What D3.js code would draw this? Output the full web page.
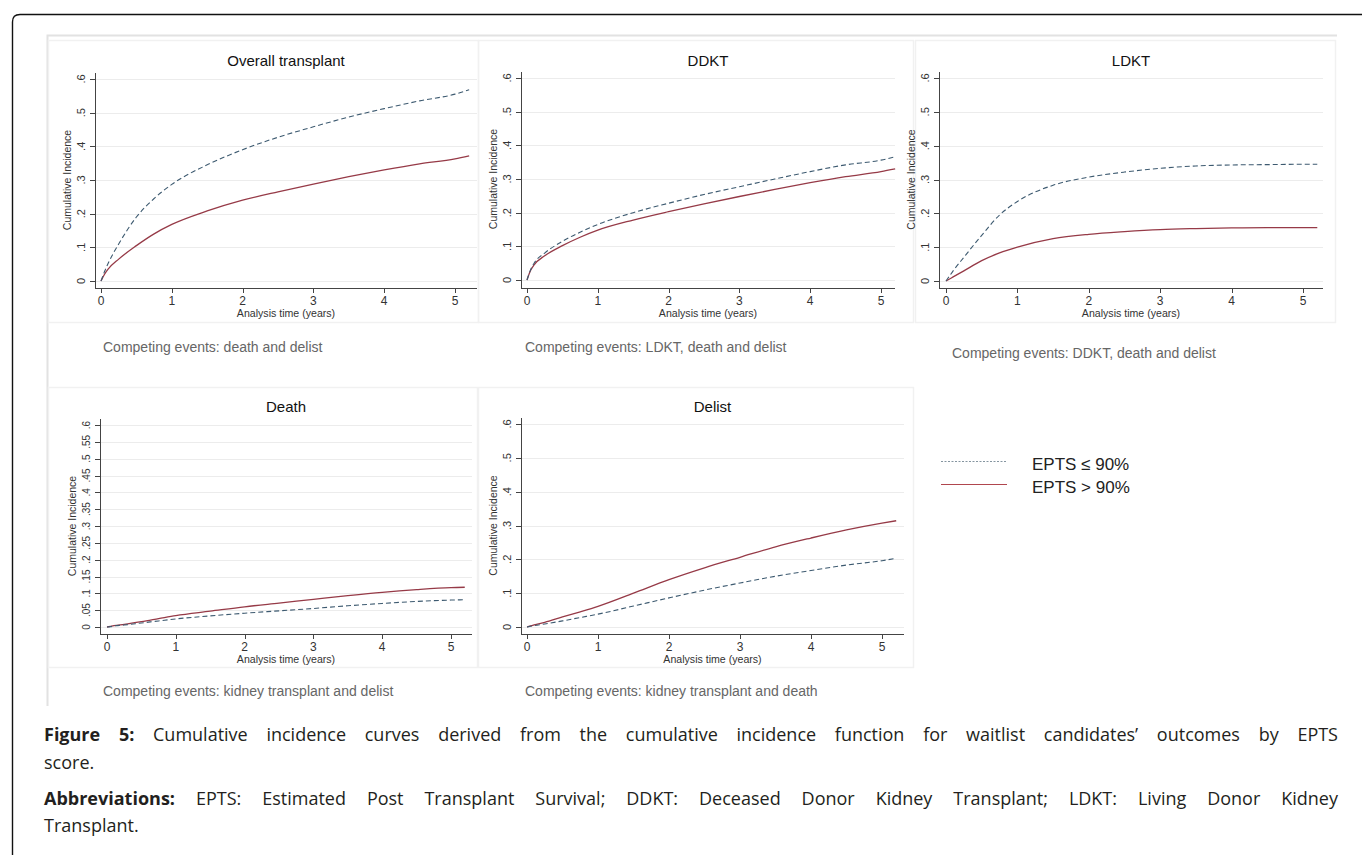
<!DOCTYPE html>
<html><head><meta charset="utf-8">
<script src="https://cdn.jsdelivr.net/npm/d3@7"></script>
<style>body{margin:0;background:#fff;} svg{display:block;}</style>
</head><body>
<svg id="c" width="1362" height="855"></svg>
<script>
// ---------------- DATA ----------------
const times = [0, 0.05, 0.1, 0.25, 0.5, 0.75, 1, 1.5, 2, 2.5, 3, 3.5, 4, 4.5, 5, 5.2];
const seriesNames = ["EPTS \u2264 90%", "EPTS > 90%"];
// EPTS <= 90% (dashed) and EPTS > 90% (solid)
const overallLow  = [0, 0.028, 0.052, 0.11, 0.19, 0.245, 0.287, 0.345, 0.39, 0.427, 0.458, 0.487, 0.512, 0.535, 0.555, 0.568];
const overallHigh = [0, 0.02, 0.035, 0.065, 0.105, 0.14, 0.168, 0.208, 0.24, 0.265, 0.288, 0.31, 0.33, 0.348, 0.363, 0.372];
const ddktLow  = [0, 0.03, 0.05, 0.08, 0.115, 0.142, 0.165, 0.2, 0.228, 0.254, 0.277, 0.3, 0.322, 0.342, 0.356, 0.366];
const ddktHigh = [0, 0.028, 0.045, 0.072, 0.102, 0.127, 0.148, 0.178, 0.203, 0.226, 0.248, 0.269, 0.289, 0.307, 0.322, 0.33];
const ldktLow  = [0, 0.015, 0.03, 0.07, 0.135, 0.195, 0.235, 0.283, 0.307, 0.322, 0.333, 0.34, 0.343, 0.344, 0.345, 0.345];
const ldktHigh = [0, 0.006, 0.012, 0.03, 0.06, 0.083, 0.1, 0.125, 0.138, 0.146, 0.152, 0.155, 0.157, 0.158, 0.158, 0.158];
const deathLow  = [0, 0.001, 0.003, 0.006, 0.012, 0.018, 0.024, 0.033, 0.041, 0.048, 0.055, 0.063, 0.07, 0.076, 0.08, 0.081];
const deathHigh = [0, 0.002, 0.004, 0.008, 0.016, 0.025, 0.034, 0.047, 0.06, 0.071, 0.082, 0.093, 0.103, 0.111, 0.117, 0.118];
const delistLow  = [0, 0.002, 0.004, 0.009, 0.018, 0.028, 0.038, 0.062, 0.086, 0.109, 0.13, 0.15, 0.167, 0.183, 0.196, 0.203];
const delistHigh = [0, 0.003, 0.006, 0.014, 0.03, 0.045, 0.061, 0.1, 0.14, 0.175, 0.206, 0.237, 0.263, 0.287, 0.307, 0.314];

const panelTitles = ["Overall transplant", "DDKT", "LDKT", "Death", "Delist"];
const panelNotes = [
  "Competing events: death and delist",
  "Competing events: LDKT, death and delist",
  "Competing events: DDKT, death and delist",
  "Competing events: kidney transplant and delist",
  "Competing events: kidney transplant and death"
];
const panelLow  = [overallLow, ddktLow, ldktLow, deathLow, delistLow];
const panelHigh = [overallHigh, ddktHigh, ldktHigh, deathHigh, delistHigh];
const xTicks = [0, 1, 2, 3, 4, 5];
const yTicksStd = [0, 0.1, 0.2, 0.3, 0.4, 0.5, 0.6];
const yTicksDeath = [0, 0.05, 0.1, 0.15, 0.2, 0.25, 0.3, 0.35, 0.4, 0.45, 0.5, 0.55, 0.6];
const panelYTicks = [yTicksStd, yTicksStd, yTicksStd, yTicksDeath, yTicksStd];
const xTitle = "Analysis time (years)";
const yTitle = "Cumulative Incidence";
const captionLines = [
  [["Figure 5:", true], ["Cumulative incidence curves derived from the cumulative incidence function for waitlist candidates\u2019 outcomes by EPTS", false]],
  [["score.", false]],
  [["Abbreviations:", true], ["EPTS: Estimated Post Transplant Survival; DDKT: Deceased Donor Kidney Transplant; LDKT: Living Donor Kidney", false]],
  [["Transplant.", false]]
];

// ---------------- LAYOUT ----------------
const layouts = [
  {ax: 95,  x0: 101, x5: 455,  xEnd: 477,  ay: 288, y0: 281, y6: 79,  top: 73,  box: [48, 40, 478, 322],  titleY: 66,  noteX: 103, noteY: 352, tf: 11},
  {ax: 521, x0: 527, x5: 881,  xEnd: 895,  ay: 288, y0: 280, y6: 78,  top: 72,  box: [478, 40, 913, 322], titleY: 66,  noteX: 525, noteY: 352, tf: 11},
  {ax: 939, x0: 946, x5: 1303, xEnd: 1323, ay: 288, y0: 281, y6: 78,  top: 72,  box: [915, 40, 1335, 322], titleY: 66, noteX: 952, noteY: 358, tf: 11},
  {ax: 100, x0: 107, x5: 451,  xEnd: 472,  ay: 634, y0: 627, y6: 425, top: 419, box: [48, 387, 477, 667], titleY: 412, noteX: 103, noteY: 696, tf: 10},
  {ax: 521, x0: 527, x5: 882,  xEnd: 904,  ay: 634, y0: 627, y6: 424, top: 418, box: [478, 387, 913, 667], titleY: 412, noteX: 525, noteY: 696, tf: 11}
];
const colLow = "#3d5a70", colHigh = "#963a47";
const font = "'Liberation Sans', Arial, sans-serif";

const svg = d3.select("#c");

// outer frame with rounded top-left corner
svg.append("path")
  .attr("d", "M12.5,860 L12.5,22 Q12.5,14.5 20,14.5 L1370,14.5")
  .attr("fill", "none").attr("stroke", "#111").attr("stroke-width", 1.4);

// image faint border
svg.append("path").attr("d", "M47.5,706 L47.5,35.5 L1337,35.5")
  .attr("fill", "none").attr("stroke", "#e2e2e2").attr("stroke-width", 2);

layouts.forEach((L, i) => {
  const g = svg.append("g");
  g.append("rect").attr("x", L.box[0] + 0.5).attr("y", L.box[1] + 0.5)
    .attr("width", L.box[2] - L.box[0]).attr("height", L.box[3] - L.box[1])
    .attr("fill", "none").attr("stroke", "#f1f1f1").attr("stroke-width", 1.5);

  const x = d3.scaleLinear().domain([0, 5]).range([L.x0, L.x5]);
  const y = d3.scaleLinear().domain([0, 0.6]).range([L.y0, L.y6]);
  const ticks = panelYTicks[i];

  // gridlines
  g.selectAll(".grid").data(ticks).enter().append("line")
    .attr("x1", L.ax).attr("x2", L.xEnd)
    .attr("y1", d => Math.round(y(d)) + 0.5).attr("y2", d => Math.round(y(d)) + 0.5)
    .attr("stroke", "#ececec").attr("stroke-width", 1);

  // axes lines
  g.append("line").attr("x1", L.ax + 0.5).attr("x2", L.ax + 0.5).attr("y1", L.top).attr("y2", L.ay + 0.5)
    .attr("stroke", "#444").attr("stroke-width", 1);
  g.append("line").attr("x1", L.ax).attr("x2", L.xEnd).attr("y1", L.ay + 0.5).attr("y2", L.ay + 0.5)
    .attr("stroke", "#444").attr("stroke-width", 1);

  // y ticks
  const fmt = d => d === 0 ? "0" : String(+d.toFixed(2)).replace(/^0/, "");
  g.selectAll(".yt").data(ticks).enter().append("line")
    .attr("x1", L.ax - 5).attr("x2", L.ax)
    .attr("y1", d => Math.round(y(d)) + 0.5).attr("y2", d => Math.round(y(d)) + 0.5)
    .attr("stroke", "#444");
  g.selectAll(".yl").data(ticks).enter().append("text")
    .attr("transform", d => `translate(${L.ax - 10},${y(d)}) rotate(-90)`)
    .attr("text-anchor", "middle").attr("font-family", font).attr("font-size", L.tf)
    .attr("fill", "#333").text(fmt);

  // x ticks
  g.selectAll(".xt").data(xTicks).enter().append("line")
    .attr("x1", d => Math.round(x(d)) + 0.5).attr("x2", d => Math.round(x(d)) + 0.5)
    .attr("y1", L.ay).attr("y2", L.ay + 5).attr("stroke", "#444");
  g.selectAll(".xl").data(xTicks).enter().append("text")
    .attr("x", d => x(d)).attr("y", L.ay + 17)
    .attr("text-anchor", "middle").attr("font-family", font).attr("font-size", 12)
    .attr("fill", "#333").text(d => d);

  // axis titles
  g.append("text").attr("x", (L.ax + L.xEnd) / 2).attr("y", L.ay + 29)
    .attr("text-anchor", "middle").attr("font-family", font).attr("font-size", 10.6)
    .attr("fill", "#333").text(xTitle);
  g.append("text").attr("transform", `translate(${L.ax - 24},${(L.y0 + L.y6) / 2}) rotate(-90)`)
    .attr("text-anchor", "middle").attr("font-family", font).attr("font-size", 10.5)
    .attr("fill", "#333").text(yTitle);

  // title
  g.append("text").attr("x", (L.ax + L.xEnd) / 2).attr("y", L.titleY)
    .attr("text-anchor", "middle").attr("font-family", font).attr("font-size", 15)
    .attr("fill", "#111").text(panelTitles[i]);

  // note
  g.append("text").attr("x", L.noteX).attr("y", L.noteY)
    .attr("font-family", font).attr("font-size", 14).attr("fill", "#666").text(panelNotes[i]);

  // curves
  const line = d3.line().x((d, k) => x(times[k])).y(d => y(d)).curve(d3.curveMonotoneX);
  g.append("path").attr("d", line(panelHigh[i])).attr("fill", "none")
    .attr("stroke", colHigh).attr("stroke-width", 1.3);
  g.append("path").attr("d", line(panelLow[i])).attr("fill", "none")
    .attr("stroke", colLow).attr("stroke-width", 1.1).attr("stroke-dasharray", "5,3");
});

// legend
const legend = svg.append("g");
const legY = [461, 484];
legend.append("line").attr("x1", 941).attr("x2", 1007).attr("y1", legY[0] + 0.5).attr("y2", legY[0] + 0.5)
  .attr("stroke", "#8595a0").attr("stroke-width", 1).attr("stroke-dasharray", "2,1.5");
legend.append("line").attr("x1", 941).attr("x2", 1007).attr("y1", legY[1] + 0.5).attr("y2", legY[1] + 0.5)
  .attr("stroke", "#b0464e").attr("stroke-width", 1);
seriesNames.forEach((s, k) => {
  legend.append("text").attr("x", 1032).attr("y", legY[k] + 9)
    .attr("font-family", font).attr("font-size", 17).attr("fill", "#222").text(s);
});

// caption (justified lines laid out word by word)
const capY = [741, 769, 805, 832];
const capX0 = 44, capX1 = 1338;
const capSize = 18;
captionLines.forEach((parts, k) => {
  const t = svg.append("text").attr("y", capY[k])
    .attr("font-family", "'Open Sans', sans-serif").attr("font-size", capSize).attr("fill", "#231f20");
  const words = [];
  parts.forEach(p => p[0].split(" ").forEach(w => words.push({w, b: p[1]})));
  const spans = words.map(o => t.append("tspan").attr("font-weight", o.b ? "bold" : "normal").text(o.w));
  const justify = (k === 0 || k === 2);
  const widths = spans.map(s => s.node().getComputedTextLength());
  const total = d3.sum(widths);
  const spaceW = capSize * 0.26;
  const gap = justify ? (capX1 - capX0 - total) / (words.length - 1) : spaceW;
  let cx = capX0;
  spans.forEach((s, j) => { s.attr("x", cx); cx += widths[j] + gap; });
});
</script>
</body></html>
